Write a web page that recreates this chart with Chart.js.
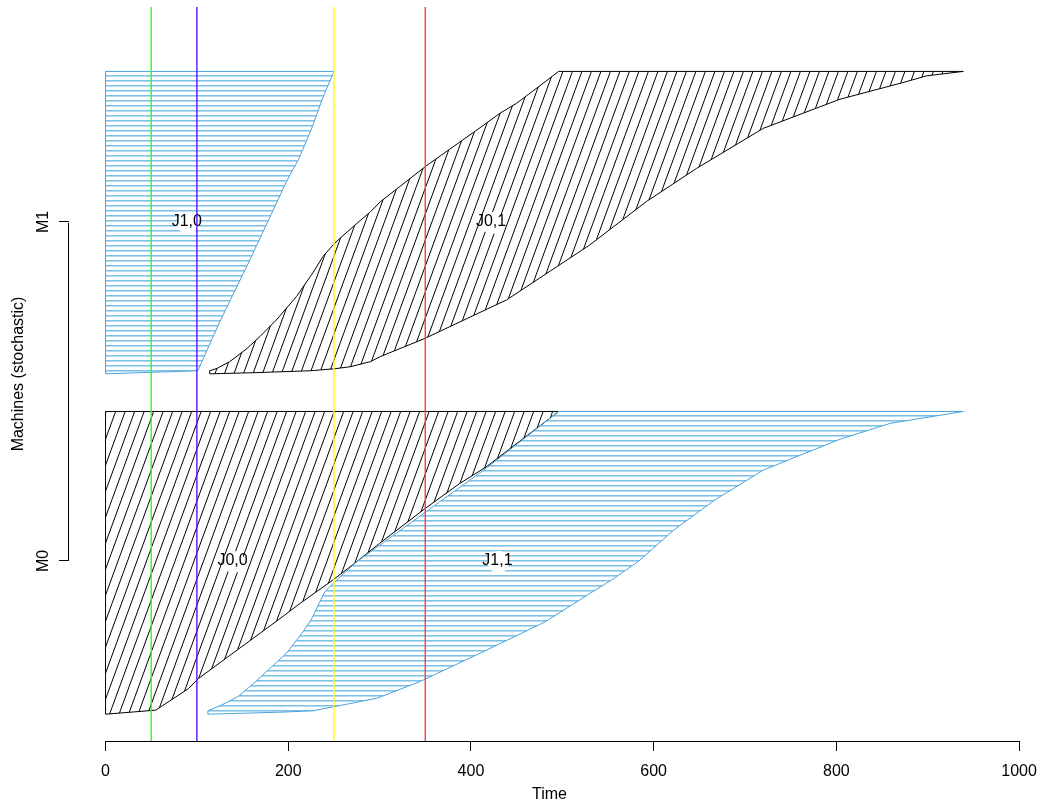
<!DOCTYPE html>
<html><head><meta charset="utf-8">
<script src="https://cdn.jsdelivr.net/npm/chart.js@4.4.1/dist/chart.umd.min.js"></script>
<style>html,body{margin:0;padding:0;background:#fff}#wrap{width:1041px;height:803px;position:relative}</style>
</head><body><div id="wrap"><canvas id="c"></canvas></div>
<script>
// ---- data ----
const machines = ['M0', 'M1'];
const timeTicks = [0, 200, 400, 600, 800, 1000];
const markerTimes = [50, 100, 250, 350];
const jobNames = ['J0,0', 'J1,0', 'J0,1', 'J1,1'];
const jobMachine = [0, 1, 1, 0];
const jobLabelTime = [139, 89, 422, 429];

const j00Time = [0, 0, 496, 417, 388, 350, 300, 275, 249, 213, 189, 102, 91, 55];
const j00Level = [-0.452, 0.441, 0.441, 0.278, 0.229, 0.155, 0.052, -0.002, -0.056, -0.125, -0.174, -0.346, -0.376, -0.440];

const j10Time = [0, 0, 250, 237, 225, 211, 199, 158, 125, 101];
const j10Level = [0.552, 1.444, 1.444, 1.360, 1.271, 1.183, 1.124, 0.888, 0.705, 0.561];

const j01Time = [114, 114, 122, 136, 155, 169, 187, 209, 227, 238, 251, 271, 290, 301, 350, 355, 410, 432, 450, 479, 496, 939, 899, 870, 804, 720, 647, 592, 530, 439, 350, 301, 290, 268, 251, 224, 158];
const j01Level = [0.552, 0.561, 0.568, 0.588, 0.627, 0.662, 0.711, 0.780, 0.850, 0.898, 0.938, 0.986, 1.030, 1.060, 1.163, 1.173, 1.278, 1.321, 1.350, 1.409, 1.444, 1.444, 1.431, 1.409, 1.362, 1.276, 1.158, 1.060, 0.932, 0.770, 0.657, 0.603, 0.588, 0.573, 0.567, 0.561, 0.555];

const j11Time = [112, 112, 127, 145, 160, 178, 198, 215, 225, 240, 251, 275, 308, 417, 496, 939, 859, 804, 720, 667, 622, 583, 554, 536, 481, 410, 344, 297, 227, 191];
const j11Level = [-0.452, -0.442, -0.425, -0.400, -0.366, -0.322, -0.272, -0.213, -0.174, -0.091, -0.061, -0.002, 0.062, 0.274, 0.441, 0.441, 0.406, 0.359, 0.268, 0.180, 0.091, -0.002, -0.056, -0.086, -0.180, -0.272, -0.356, -0.405, -0.442, -0.446];

const xRange = [-40, 1012];
const yRange = [-0.531, 1.634];

// ---- styles ----
const markerColors = ['#22ff22', '#5a10ff', '#ffff00', '#ff3b3b'];
const blueLine = '#4aa3dc';

function makeHorizTile() {
  const c = document.createElement('canvas'); c.width = 8; c.height = 5;
  const g = c.getContext('2d');
  g.fillStyle = '#7fc0e6'; g.fillRect(0, 0, 8, 1);
  g.fillStyle = '#b6dcf2'; g.fillRect(0, 1, 8, 1);
  return c;
}
function makeDiagTile() {
  const w = 19, h = 52;
  const c = document.createElement('canvas'); c.width = w; c.height = h;
  const g = c.getContext('2d');
  g.strokeStyle = '#000'; g.lineWidth = 1;
  for (const a of [-19, -9.5, 0, 9.5, 19]) {
    g.beginPath(); g.moveTo(a, h); g.lineTo(a + w, 0); g.stroke();
  }
  return c;
}
const ctx0 = document.getElementById('c').getContext('2d');
const patterns = {
  horiz: ctx0.createPattern(makeHorizTile(), 'repeat'),
  diag: ctx0.createPattern(makeDiagTile(), 'repeat')
};

function poly(times, levels) {
  const pts = times.map((t, i) => ({x: t, y: levels[i]}));
  pts.push(pts[0]);
  return pts;
}

const polyStyle = {showLine: true, pointRadius: 0, borderWidth: 1, tension: 0, fill: false};
const datasets = [
  Object.assign({label: 'J0,0', data: poly(j00Time, j00Level), borderColor: '#000', hatch: 'diag', order: 10}, polyStyle),
  Object.assign({label: 'J1,0', data: poly(j10Time, j10Level), borderColor: blueLine, hatch: 'horiz', order: 9}, polyStyle),
  Object.assign({label: 'J0,1', data: poly(j01Time, j01Level), borderColor: '#000', hatch: 'diag', order: 8}, polyStyle),
  Object.assign({label: 'J1,1', data: poly(j11Time, j11Level), borderColor: blueLine, hatch: 'horiz', order: 7}, polyStyle)
];
markerTimes.forEach((t, i) => {
  datasets.push({
    label: 'm' + t, data: [{x: t, y: yRange[0]}, {x: t, y: yRange[1]}],
    showLine: true, pointRadius: 0, borderWidth: 1.4, borderColor: markerColors[i], marker: true, order: 3 - i
  });
});

function drawLabels(chart) {
  const ctx = chart.ctx, xs = chart.scales.x, ys = chart.scales.y;
  ctx.save();
  ctx.font = '16px "Liberation Sans", Arial, sans-serif';
  ctx.textAlign = 'center'; ctx.textBaseline = 'middle';
  jobNames.forEach((name, i) => {
    const px = xs.getPixelForValue(jobLabelTime[i]);
    const py = ys.getPixelForValue(jobMachine[i]);
    ctx.fillStyle = '#fff';
    ctx.beginPath(); ctx.arc(px + 1, py + 1, 11, 0, Math.PI * 2); ctx.fill();
    ctx.fillStyle = '#000';
    ctx.fillText(name, px, py);
  });
  ctx.restore();
}

const hatchPlugin = {
  id: 'hatch',
  beforeDatasetsDraw(chart) { chart.$labelsDone = false; },
  beforeDatasetDraw(chart, args) {
    const ds = chart.data.datasets[args.index];
    const ctx = chart.ctx, a = chart.chartArea;
    if (ds.hatch) {
      const pts = args.meta.data;
      ctx.save();
      ctx.beginPath(); ctx.rect(a.left, a.top, a.right - a.left, a.bottom - a.top); ctx.clip();
      ctx.beginPath();
      pts.forEach((p, i) => i ? ctx.lineTo(p.x, p.y) : ctx.moveTo(p.x, p.y));
      ctx.closePath();
      ctx.fillStyle = patterns[ds.hatch];
      ctx.fill();
      ctx.restore();
    } else if (ds.marker && !chart.$labelsDone) {
      drawLabels(chart);
      chart.$labelsDone = true;
    }
  },
  afterDraw(chart) {
    const ctx = chart.ctx, xs = chart.scales.x, ys = chart.scales.y, a = chart.chartArea;
    ctx.save();
    ctx.strokeStyle = '#000'; ctx.lineWidth = 1;
    const yb = Math.round(a.bottom) + 0.5;
    ctx.beginPath();
    ctx.moveTo(Math.round(xs.getPixelForValue(timeTicks[0])), yb);
    ctx.lineTo(Math.round(xs.getPixelForValue(timeTicks[timeTicks.length - 1])) + 1, yb);
    ctx.stroke();
    const xl = Math.round(a.left) - 0.5;
    ctx.beginPath();
    ctx.moveTo(xl, Math.round(ys.getPixelForValue(0)));
    ctx.lineTo(xl, Math.round(ys.getPixelForValue(machines.length - 1)) + 1);
    ctx.stroke();
    ctx.restore();
  }
};

Chart.defaults.font.family = '"Liberation Sans", Arial, Helvetica, sans-serif';
Chart.defaults.font.size = 16;
Chart.defaults.color = '#000';

new Chart(ctx0, {
  type: 'scatter',
  data: {datasets},
  options: {
    responsive: true, maintainAspectRatio: false, animation: false,
    layout: {padding: {left: 0, top: 7, right: 11, bottom: 0}},
    plugins: {legend: {display: false}, tooltip: {enabled: false}},
    scales: {
      x: {
        type: 'linear', min: xRange[0], max: xRange[1],
        afterBuildTicks: s => { s.ticks = timeTicks.map(v => ({value: v})); },
        afterFit: s => { s.height = 62; s.paddingLeft = 0; s.paddingRight = 0; },
        border: {display: false},
        grid: {display: true, drawOnChartArea: false, drawTicks: true, tickLength: 10, color: '#000'},
        ticks: {padding: 11, maxRotation: 0, autoSkip: false, callback: v => String(v)},
        title: {display: true, text: 'Time', padding: {top: 0, bottom: 0}, font: {size: 16, lineHeight: 1.1}}
      },
      y: {
        type: 'linear', min: yRange[0], max: yRange[1],
        afterBuildTicks: s => { s.ticks = machines.map((m, i) => ({value: i})); },
        afterFit: s => { s.width = 69; s.paddingTop = 0; s.paddingBottom = 0; },
        border: {display: false},
        grid: {display: true, drawOnChartArea: false, drawTicks: true, tickLength: 10, color: '#000'},
        ticks: {padding: 4, minRotation: 90, maxRotation: 90, crossAlign: 'center', autoSkip: false, callback: v => machines[v]},
        title: {display: true, text: 'Machines (stochastic)', padding: {top: 9, bottom: 0}, font: {size: 16, lineHeight: 1.2}}
      }
    }
  },
  plugins: [hatchPlugin]
});
</script></body></html>
